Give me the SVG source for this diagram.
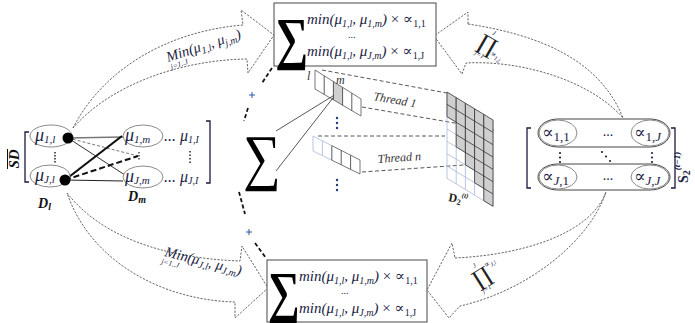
<svg xmlns="http://www.w3.org/2000/svg" width="695" height="323" viewBox="0 0 695 323">
<style>
.arr{fill:#fff;stroke:#555;stroke-width:0.9;stroke-dasharray:2.2 1.4}
.box{fill:#fff;stroke:#666;stroke-width:1.2}
.el{fill:#fff;stroke:#8a8a8a;stroke-width:1}
.m{font-family:"Liberation Serif","DejaVu Serif",serif;font-style:italic;fill:#1c2444}
.up{font-style:normal}
.s{font-size:10px}
.sig{font-family:"Liberation Serif","DejaVu Serif",serif;fill:#000}
.pr{font-family:"DejaVu Serif",serif;fill:#222}
.th{font-family:"Liberation Serif","DejaVu Serif",serif;font-style:italic;fill:#333;font-size:12px}
.dk{stroke:#333;stroke-width:0.8;fill:none}
.lb{stroke:#a8b8dc;stroke-width:0.8;fill:none}
.dash{stroke:#111;stroke-width:1.8;stroke-dasharray:4 2.5;fill:none}
.plus{stroke:#2a5aa8;stroke-width:1}
</style>

<!-- connectors: curved block arrows -->
<g id="connectors">
  <path class="arr" d="M73,128 C100,75 160,32 243,25 L241,10 L274,35 L248,73 L247,59 C180,60 110,85 73,128 Z"/>
  <path class="arr" d="M67,193 C100,235 160,258 240,261 L242,246 L268,288 L235,318 L235,302 C160,300 90,260 67,193 Z"/>
  <path class="arr" d="M468,24 C540,35 600,60 623,118 C590,80 520,60 466,63 L462,74 L434,36 L468,12 Z"/>
  <path class="arr" d="M455,258 C520,255 590,235 606,192 C590,240 530,290 460,306 L449,318 L427,290 L452,243 Z"/>

  <!-- arrow labels -->
  <g transform="translate(168,62) rotate(-18)">
    <text class="m" font-size="14.5" x="0" y="0">Min(μ<tspan class="s" dy="3">1,l</tspan><tspan dy="-3">, μ</tspan><tspan class="s" dy="3">j,m</tspan><tspan dy="-3">)</tspan></text>
    <text class="m" font-size="7.5" x="1" y="8">j=1..J</text>
  </g>
  <g transform="translate(164,256) rotate(14)">
    <text class="m" font-size="14.5" x="0" y="0">Min(μ<tspan class="s" dy="3">J,l</tspan><tspan dy="-3">, μ</tspan><tspan class="s" dy="3">J,m</tspan><tspan dy="-3">)</tspan></text>
    <text class="m" font-size="7.5" x="-1" y="8">j=1..J</text>
  </g>
  <g transform="translate(487,44) rotate(30)">
    <text class="pr" font-size="22" x="-8" y="8">∏</text>
    <text class="m" font-size="6.5" x="-1" y="-11">J</text>
    <text class="m" font-size="6.5" x="-6" y="15">j=1</text>
    <text class="m" font-size="8" x="8" y="8">∝<tspan font-size="6" dy="2">1,j</tspan></text>
  </g>
  <g transform="translate(481,277) rotate(-32)">
    <text class="pr" font-size="22" x="-8" y="8">∏</text>
    <text class="m" font-size="6.5" x="-1" y="-11">J</text>
    <text class="m" font-size="6.5" x="-6" y="15">j=1</text>
    <text class="m" font-size="8" x="9" y="-5">∝<tspan font-size="6" dy="2">J,l</tspan></text>
  </g>

  <!-- dashed arc around central sigma -->
  <line class="dash" x1="272" y1="68" x2="262" y2="83"/>
  <line class="dash" x1="248" y1="108" x2="244" y2="121"/>
  <line class="dash" x1="239" y1="192" x2="245" y2="214"/>
  <line class="dash" x1="255" y1="243" x2="266" y2="258"/>
  <path class="plus" d="M249,95 h6 M252,92 v6 M246,232 h6 M249,229 v6"/>

  <!-- lines from sigma to cell -->
  <line x1="276" y1="131" x2="336" y2="94" stroke="#444" stroke-width="0.9"/>
  <line x1="276" y1="171" x2="336" y2="94" stroke="#444" stroke-width="0.9"/>

  <!-- thread dashed lines -->
  <g stroke="#444" stroke-width="0.9" stroke-dasharray="4 2.5" fill="none">
    <line x1="322" y1="70" x2="447" y2="93"/>
    <line x1="362" y1="107" x2="495" y2="130"/>
    <line x1="318" y1="136" x2="445" y2="136"/>
    <line x1="362" y1="172" x2="493" y2="163"/>
  </g>

  <!-- left matrix links -->
  <line x1="68" y1="138" x2="123" y2="137" stroke="#777" stroke-width="1.3"/>
  <line x1="68" y1="138" x2="138" y2="156" stroke="#777" stroke-width="1" stroke-dasharray="3 2"/>
  <line x1="68" y1="138" x2="128" y2="177" stroke="#333" stroke-width="1"/>
  <line x1="65" y1="180" x2="122" y2="136" stroke="#111" stroke-width="2.2"/>
  <line x1="65" y1="180" x2="138" y2="156" stroke="#111" stroke-width="2" stroke-dasharray="6 3"/>
  <line x1="65" y1="180" x2="123" y2="181" stroke="#222" stroke-width="1.2"/>
</g>

<!-- top box -->
<g id="topbox">
  <rect class="box" x="274" y="3" width="162" height="63"/>
  <text class="sig" transform="translate(275,58) scale(0.8,1)" font-size="58" font-weight="bold">∑</text>
  <text class="m" x="307" y="24" font-size="15">min(μ<tspan class="s" dy="3">1,l</tspan><tspan dy="-3">, μ</tspan><tspan class="s" dy="3">1,m</tspan><tspan dy="-3">) </tspan><tspan class="up">× ∝</tspan><tspan class="s up" dy="3">1,1</tspan></text>
  <text class="m" x="352" y="38" font-size="10" text-anchor="middle">...</text>
  <text class="m" x="307" y="56" font-size="15">min(μ<tspan class="s" dy="3">1,l</tspan><tspan dy="-3">, μ</tspan><tspan class="s" dy="3">J,m</tspan><tspan dy="-3">) </tspan><tspan class="up">× ∝</tspan><tspan class="s up" dy="3">1,J</tspan></text>
</g>

<!-- bottom box -->
<g id="bottombox">
  <rect class="box" x="267" y="260" width="160" height="62"/>
  <text class="sig" transform="translate(268,311) scale(0.8,1)" font-size="56" font-weight="bold">∑</text>
  <text class="m" x="299" y="281" font-size="15">min(μ<tspan class="s" dy="3">1,l</tspan><tspan dy="-3">, μ</tspan><tspan class="s" dy="3">1,m</tspan><tspan dy="-3">) </tspan><tspan class="up">× ∝</tspan><tspan class="s up" dy="3">1,1</tspan></text>
  <text class="m" x="345" y="294" font-size="10" text-anchor="middle">...</text>
  <text class="m" x="299" y="313" font-size="15">min(μ<tspan class="s" dy="3">1,l</tspan><tspan dy="-3">, μ</tspan><tspan class="s" dy="3">J,m</tspan><tspan dy="-3">) </tspan><tspan class="up">× ∝</tspan><tspan class="s up" dy="3">1,J</tspan></text>
</g>

<!-- left matrix -->
<g id="leftmatrix">
  <path d="M29,132 H25 V182 H29" fill="none" stroke="#1a1a40" stroke-width="1.3"/>
  <path d="M206,121 H210 V183 H206" fill="none" stroke="#1a1a40" stroke-width="1.3"/>
  <line x1="7.5" y1="149" x2="7.5" y2="169" stroke="#111" stroke-width="1"/>
  <text transform="translate(19,159) rotate(-90)" font-family="Liberation Serif, serif" font-style="italic" font-weight="bold" font-size="15" text-anchor="middle" fill="#111">SD</text>
  <ellipse class="el" cx="51" cy="136" rx="21" ry="11"/>
  <ellipse class="el" cx="50" cy="176" rx="20" ry="11"/>
  <ellipse class="el" cx="143" cy="136" rx="20" ry="11"/>
  <ellipse class="el" cx="143" cy="177" rx="20" ry="11"/>
  <text class="m" x="35" y="141" font-size="18">μ<tspan font-size="11" dy="2">1,l</tspan></text>
  <text class="m" x="35" y="181" font-size="18">μ<tspan font-size="11" dy="2">J,l</tspan></text>
  <text class="m" x="125" y="141" font-size="18">μ<tspan font-size="11" dy="2">1,m</tspan></text>
  <text class="m" x="125" y="182" font-size="18">μ<tspan font-size="11" dy="2">J,m</tspan></text>
  <text class="m" x="164" y="141" font-size="16">... μ<tspan class="s" dy="2">1,I</tspan></text>
  <text class="m" x="164" y="182" font-size="16">... μ<tspan class="s" dy="2">J,I</tspan></text>
  <line x1="55" y1="152" x2="55" y2="164" stroke="#222" stroke-width="1.5" stroke-dasharray="1.5 1.5"/>
  <line x1="139" y1="152" x2="139" y2="160" stroke="#222" stroke-width="1.2" stroke-dasharray="1.5 1.5"/>
  <line x1="190" y1="151" x2="190" y2="163" stroke="#222" stroke-width="1.5" stroke-dasharray="1.5 2"/>
  <circle cx="68" cy="138" r="5.5" fill="#000"/>
  <circle cx="65" cy="180" r="5.5" fill="#000"/>
  <text x="38" y="208" font-family="Liberation Serif, serif" font-style="italic" font-weight="bold" font-size="14" fill="#111">D<tspan font-size="10" dy="2">l</tspan></text>
  <text x="128" y="201" font-family="Liberation Serif, serif" font-style="italic" font-weight="bold" font-size="14" fill="#111">D<tspan font-size="10" dy="2">m</tspan></text>
</g>

<!-- central sigma -->
<g id="sigma">
  <text class="sig" transform="translate(243,178) scale(0.85,1)" font-size="62">∑</text>
</g>

<!-- threads -->
<g id="thread1">
  <polygon points="333.4,81.6 342.6,87.4 342.6,105.2 333.4,99.8" fill="#cfcfcf"/>
  <polygon points="315,70 361,99 361,116 315,89" fill="none" stroke="#555" stroke-width="0.8"/>
  <path class="dk" d="M324.2,75.8 V94.4 M333.4,81.6 V99.8 M342.6,87.4 V105.2 M351.8,93.2 V110.6"/>
  <text class="th" font-size="8" x="307" y="80">l</text>
  <text class="th" font-size="8" x="336" y="84">m</text>
  <text class="th" transform="translate(373,100) rotate(10)">Thread 1</text>
  <g fill="#1f3a7a"><circle cx="337" cy="118" r="1.2"/><circle cx="337" cy="123" r="1.2"/><circle cx="337" cy="128" r="1.2"/></g>
</g>
<g id="threadn">
  <polygon points="313,136 331.8,145.6 331.8,160.2 313,151" fill="none" stroke="#a8b8dc" stroke-width="0.8"/>
  <line class="lb" x1="322.4" y1="140.8" x2="322.4" y2="155.6"/>
  <polygon points="331.8,145.6 360,160 360,174 331.8,160.2" fill="none" stroke="#555" stroke-width="0.8"/>
  <path class="dk" d="M341.2,150.4 V164.8 M350.6,155.2 V169.4"/>
  <text class="th" transform="translate(378,163) rotate(-4)">Thread n</text>
  <g fill="#1f3a7a"><circle cx="337" cy="180" r="1.2"/><circle cx="337" cy="185" r="1.2"/><circle cx="337" cy="190" r="1.2"/></g>
</g>

<!-- grid D2 -->
<g id="grid">
  <path class="lb" d="M447,92 V178.3 M456.2,97.6 V183.9 M465.4,103.2 V189.5 M474.6,108.8 V195.1 M483.8,114.4 V200.7 M493,120 V206.3
    M447,104.33 L493,132.33 M447,116.66 L493,144.66 M447,128.99 L493,156.99 M447,141.32 L493,169.32 M447,153.65 L493,181.65 M447,165.98 L493,193.98 M447,178.31 L493,206.31"/>
  <g fill="#cfcfcf" stroke="#333" stroke-width="0.8">
    <polygon points="447,92 456.2,97.6 456.2,122.26 447,116.66"/>
    <polygon points="456.2,97.6 465.4,103.2 465.4,152.5 456.2,146.9"/>
    <polygon points="465.4,103.2 474.6,108.8 474.6,170.45 465.4,164.85"/>
    <polygon points="474.6,108.8 483.8,114.4 483.8,188.4 474.6,182.8"/>
    <polygon points="483.8,114.4 493,120 493,206.3 483.8,200.7"/>
  </g>
  <path class="dk" d="M447,104.33 L456.2,109.93
    M456.2,109.93 L465.4,115.53 M456.2,122.26 L465.4,127.86 M456.2,134.59 L465.4,140.19
    M465.4,115.53 L474.6,121.13 M465.4,127.86 L474.6,133.46 M465.4,140.19 L474.6,145.79 M465.4,152.52 L474.6,158.12
    M474.6,121.13 L483.8,126.73 M474.6,133.46 L483.8,139.06 M474.6,145.79 L483.8,151.39 M474.6,158.12 L483.8,163.72 M474.6,170.45 L483.8,176.05
    M483.8,126.73 L493,132.33 M483.8,139.06 L493,144.66 M483.8,151.39 L493,156.99 M483.8,163.72 L493,169.32 M483.8,176.05 L493,181.65 M483.8,188.38 L493,193.98"/>
  <text transform="translate(448,201) rotate(10)" font-family="Liberation Serif, serif" font-weight="bold" font-size="12" fill="#222">D<tspan font-size="8" dy="2">2</tspan><tspan font-size="7" dy="-8" font-style="italic">(t)</tspan></text>
</g>

<!-- right matrix -->
<g id="rightmatrix">
  <path d="M531,128 H527 V188 H531" fill="none" stroke="#1a1a40" stroke-width="1.3"/>
  <path d="M671,128 H675 V188 H671" fill="none" stroke="#1a1a40" stroke-width="1.3"/>
  <path d="M558,119 H650 A20,14 0 0 1 650,147 H558 A20,14 0 0 1 558,119 Z" fill="#fff" stroke="#444" stroke-width="1"/>
  <path d="M558,164 H650 A20,13 0 0 1 650,190 H558 A20,13 0 0 1 558,164 Z" fill="#fff" stroke="#444" stroke-width="1"/>
  <ellipse class="el" cx="558" cy="133" rx="19" ry="13" stroke="#555"/>
  <ellipse class="el" cx="650" cy="133" rx="19" ry="13" stroke="#555"/>
  <ellipse class="el" cx="558" cy="177" rx="19" ry="12" stroke="#555"/>
  <ellipse class="el" cx="650" cy="177" rx="19" ry="12" stroke="#555"/>
  <text class="m up" x="542" y="138" font-size="17">∝<tspan font-size="13" dy="3">1,1</tspan></text>
  <text class="m up" x="634" y="138" font-size="17">∝<tspan font-size="13" dy="3">1,<tspan font-style="italic">J</tspan></tspan></text>
  <text class="m up" x="542" y="182" font-size="17">∝<tspan font-size="13" dy="3"><tspan font-style="italic">J</tspan>,1</tspan></text>
  <text class="m up" x="634" y="182" font-size="17">∝<tspan font-size="13" dy="3"><tspan font-style="italic">J,J</tspan></tspan></text>
  <text class="m up" x="608" y="136" font-size="14" text-anchor="middle">...</text>
  <text class="m up" x="608" y="180" font-size="14" text-anchor="middle">...</text>
  <g fill="#1c2444">
    <circle cx="560" cy="153" r="1.1"/><circle cx="560" cy="157.5" r="1.1"/><circle cx="560" cy="162" r="1.1"/>
    <circle cx="652" cy="153" r="1.1"/><circle cx="652" cy="157.5" r="1.1"/><circle cx="652" cy="162" r="1.1"/>
    <circle cx="602" cy="152" r="1.1"/><circle cx="606" cy="156.5" r="1.1"/><circle cx="610" cy="161" r="1.1"/>
  </g>
  <text transform="translate(688,183) rotate(-90)" font-family="Liberation Serif, serif" font-weight="bold" font-size="14" fill="#1c2444">S<tspan font-size="10" dy="2">2</tspan><tspan font-size="9" dy="-10" font-style="italic">(t−1)</tspan></text>
</g>
</svg>
